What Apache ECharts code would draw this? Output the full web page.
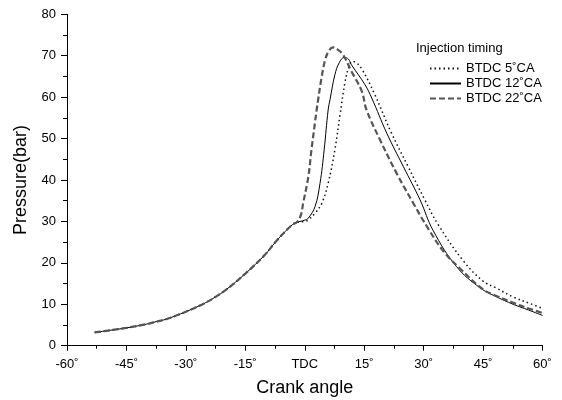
<!DOCTYPE html>
<html>
<head>
<meta charset="utf-8">
<script src="https://cdn.jsdelivr.net/npm/echarts@6/dist/echarts.min.js"></script>
<style>html,body{margin:0;padding:0;background:#fff;}#c{width:562px;height:400px;}</style>
</head>
<body>
<div id="c"></div>
<script>
var xTicks = [-60, -45, -30, -15, 0, 15, 30, 45, 60];
var xTickLabels = ['-60˚', '-45˚', '-30˚', '-15˚', 'TDC', '15˚', '30˚', '45˚', '60˚'];
var seriesNames = ['BTDC 5˚CA', 'BTDC 12˚CA', 'BTDC 22˚CA'];

// shared compression part
var compAngle = [-53, -50, -45, -40, -37.5, -35, -30, -25, -22.5, -20, -15, -10, -7.5, -5, -3, -2];
var compP     = [3.2, 3.6, 4.3, 5.2, 5.8, 6.4, 8.2, 10.4, 11.8, 13.4, 17.4, 22.0, 24.9, 27.5, 29.3, 29.8];

var btdc5Angle = [0, 0.9, 2.6, 4.3, 5.9, 7.6, 8.9, 10.2, 11.2, 12, 13, 14.4, 17.5, 21.9, 26.1, 30.3, 33.5, 40, 45, 48.4, 52.5, 56.8, 60];
var btdc5P     = [30.0, 30.4, 32.0, 34.4, 39.2, 47.3, 55.7, 63.8, 67.5, 68.6, 68.3, 66.8, 61.0, 51.3, 43.2, 35.2, 29.5, 20.5, 15.6, 13.9, 11.8, 10.2, 9.0];

var btdc12Angle = [-1.2, 0, 0.9, 2.6, 3.85, 4.9, 5.9, 6.4, 7.6, 8.7, 10, 11, 11.8, 15.2, 16.9, 20.7, 24.9, 29.1, 32.4, 38.3, 44.2, 48.4, 52.6, 56.5, 60];
var btdc12P     = [30.0, 30.3, 30.8, 33.6, 39.2, 47.3, 56.9, 59.5, 65.4, 68.3, 69.6, 69.2, 67.8, 63.0, 59.8, 51.3, 43.2, 35.2, 27.8, 19.1, 14.0, 11.8, 10.0, 8.6, 7.3];

var btdc22Angle = [-1, -0.4, 0.9, 1.7, 3.0, 3.4, 4.2, 5.1, 6.0, 7.15, 8.3, 9.7, 11.8, 14.4, 15.6, 19.0, 23.2, 27.4, 31.2, 35, 39.1, 45, 48.4, 52.5, 56.5, 60];
var btdc22P     = [31.5, 34.4, 40.8, 47.3, 56.9, 59.5, 64.5, 68.8, 71.0, 72.0, 71.5, 70.2, 66.2, 61.4, 56.9, 49.7, 41.6, 34.4, 28.2, 22.8, 18.7, 13.6, 12.0, 10.4, 9.0, 7.9];

function build(a, p) {
  var out = [];
  for (var i = 0; i < compAngle.length; i++) out.push([compAngle[i], compP[i]]);
  for (var j = 0; j < a.length; j++) out.push([a[j], p[j]]);
  return out;
}

var chart = echarts.init(document.getElementById('c'), null, {renderer: 'canvas'});
var font = 'Liberation Sans, Arial, sans-serif';
chart.setOption({
  animation: false,
  backgroundColor: '#fff',
  grid: {left: 67, right: 19.5, top: 14.3, bottom: 54.3, containLabel: false, outerBoundsMode: 'none'},
  graphic: [{
    type: 'text', left: 416, top: 42,
    style: {text: 'Injection timing', font: '13px ' + font, fill: '#000'}
  }],
  legend: {
    orient: 'vertical', left: 424, top: 57, itemGap: 2, itemWidth: 31, itemHeight: 13,
    itemStyle: {color: 'transparent', borderColor: 'transparent', borderWidth: 0},
    textStyle: {fontFamily: font, fontSize: 13, color: '#000', padding: [0, 0, 0, 0]},
    data: seriesNames
  },
  xAxis: {
    type: 'value', min: -60, max: 60, interval: 15,
    name: 'Crank angle', nameLocation: 'middle', nameGap: 33,
    nameTextStyle: {fontFamily: font, fontSize: 18, color: '#000'},
    axisLine: {onZero: false, lineStyle: {color: '#000', width: 1}},
    axisTick: {show: true, length: 5, lineStyle: {color: '#000'}},
    minorTick: {show: true, splitNumber: 2, length: 3, lineStyle: {color: '#000'}},
    splitLine: {show: false},
    axisLabel: {
      fontFamily: font, fontSize: 13, color: '#000', margin: 12,
      formatter: function (v) { var i = xTicks.indexOf(v); return i >= 0 ? xTickLabels[i] : ''; }
    }
  },
  yAxis: {
    type: 'value', min: 0, max: 80, interval: 10,
    name: 'Pressure(bar)', nameLocation: 'middle', nameGap: 37,
    nameTextStyle: {fontFamily: font, fontSize: 18, color: '#000'},
    axisLine: {show: true, onZero: false, lineStyle: {color: '#000', width: 1}},
    axisTick: {show: true, length: 6, lineStyle: {color: '#000'}},
    minorTick: {show: true, splitNumber: 2, length: 4, lineStyle: {color: '#000'}},
    splitLine: {show: false},
    axisLabel: {fontFamily: font, fontSize: 13, color: '#000', margin: 11}
  },
  series: [
    {name: seriesNames[0], type: 'line', showSymbol: false, symbol: 'none', smooth: 0.4, clip: false,
     lineStyle: {color: '#111', width: 1.5, type: [1.5, 3]}, itemStyle: {color: '#111'},
     data: build(btdc5Angle, btdc5P)},
    {name: seriesNames[1], type: 'line', showSymbol: false, symbol: 'none', smooth: 0.4, clip: false,
     lineStyle: {color: '#000', width: 1}, itemStyle: {color: '#000'},
     data: build(btdc12Angle, btdc12P)},
    {name: seriesNames[2], type: 'line', showSymbol: false, symbol: 'none', smooth: 0.4, clip: false,
     lineStyle: {color: '#555', width: 2.2, type: [6, 3]}, itemStyle: {color: '#555'},
     data: build(btdc22Angle, btdc22P)}
  ]
});
</script>
</body>
</html>
